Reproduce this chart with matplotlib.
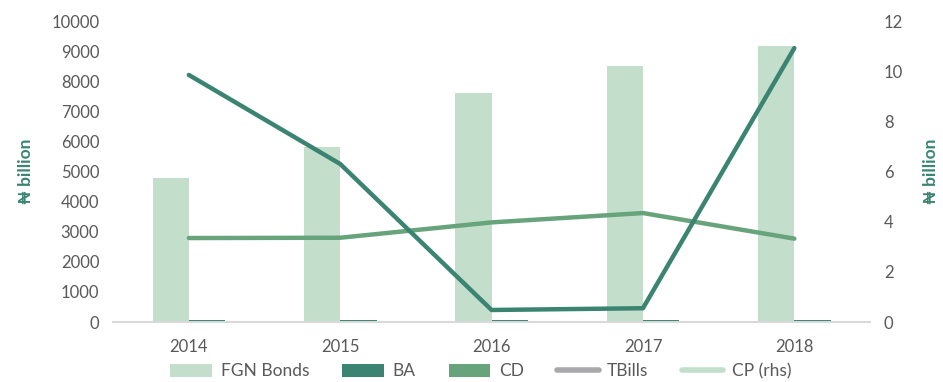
import numpy as np
import matplotlib
matplotlib.use("Agg")
import matplotlib.pyplot as plt
from matplotlib.patches import Patch
from matplotlib.lines import Line2D

plt.rcParams['font.family'] = ['Lato', 'DejaVu Sans']

# ─── Data ─────────────────────────────────────────────────────────────────
years = ["2014", "2015", "2016", "2017", "2018"]
fgn_bonds = [4780, 5810, 7600, 8500, 9170]       # ₦ billion, left axis
ba = [60, 60, 60, 60, 60]                        # ₦ billion, left axis
cd = [2790, 2800, 3310, 3620, 2770]              # ₦ billion, left axis
cp_rhs = [9.85, 6.3, 0.48, 0.55, 10.92]          # ₦ billion, right axis

C_LIGHT = "#c3dfcc"
C_TEAL = "#3b8472"
C_MID = "#67a47b"
C_GREY = "#a9a9ab"
C_TEXT = "#595959"

x = np.arange(len(years))
w = 0.24

fig = plt.figure(figsize=(9.43, 3.82), dpi=100)
ax = fig.add_axes([0.12, 0.157, 0.8026, 0.788])
ax2 = ax.twinx()

ax.bar(x - w / 2, fgn_bonds, width=w, color=C_LIGHT, zorder=2)
ax.bar(x + w / 2, ba, width=w, color=C_TEAL, zorder=2)
ax.plot(x, cd, color=C_MID, lw=3.2, zorder=3, solid_capstyle="round")
ax2.plot(x, cp_rhs, color=C_TEAL, lw=3.2, zorder=3, solid_capstyle="round")

ax.set_xlim(-0.5, len(years) - 0.5)
ax.set_ylim(0, 10000)
ax.set_yticks(np.arange(0, 10001, 1000))
ax2.set_ylim(0, 12)
ax2.set_yticks(np.arange(0, 13, 2))
ax.set_xticks(x)
ax.set_xticklabels(years)

for a in (ax, ax2):
    for s in a.spines.values():
        s.set_visible(False)
    a.tick_params(length=0, colors=C_TEXT, labelsize=12)
ax.spines["bottom"].set_visible(True)
ax.spines["bottom"].set_color("#d9d9d9")
ax.spines["bottom"].set_linewidth(1.5)
ax.tick_params(axis="x", pad=12)
ax.tick_params(axis="y", pad=10)
ax2.tick_params(axis="y", pad=10)

ax.set_ylabel("₦ billion", color=C_TEAL, fontsize=12.5, fontweight="bold", labelpad=12)
ax2.set_ylabel("₦ billion", color=C_TEAL, fontsize=12.5, fontweight="bold", labelpad=14)

handles = [
    Patch(facecolor=C_LIGHT, label="FGN Bonds"),
    Patch(facecolor=C_TEAL, label="BA"),
    Patch(facecolor=C_MID, label="CD"),
    Line2D([], [], color=C_GREY, lw=4, solid_capstyle="round", label="TBills"),
    Line2D([], [], color=C_LIGHT, lw=4, solid_capstyle="round", label="CP (rhs)"),
]
leg = fig.legend(handles=handles, loc="center", bbox_to_anchor=(0.51, 0.028),
                 ncol=5, frameon=False, fontsize=12.5, handlelength=2.4,
                 handleheight=0.8, columnspacing=1.9, handletextpad=0.5)
for t in leg.get_texts():
    t.set_color(C_TEXT)

fig.savefig("out.png", dpi=100)
